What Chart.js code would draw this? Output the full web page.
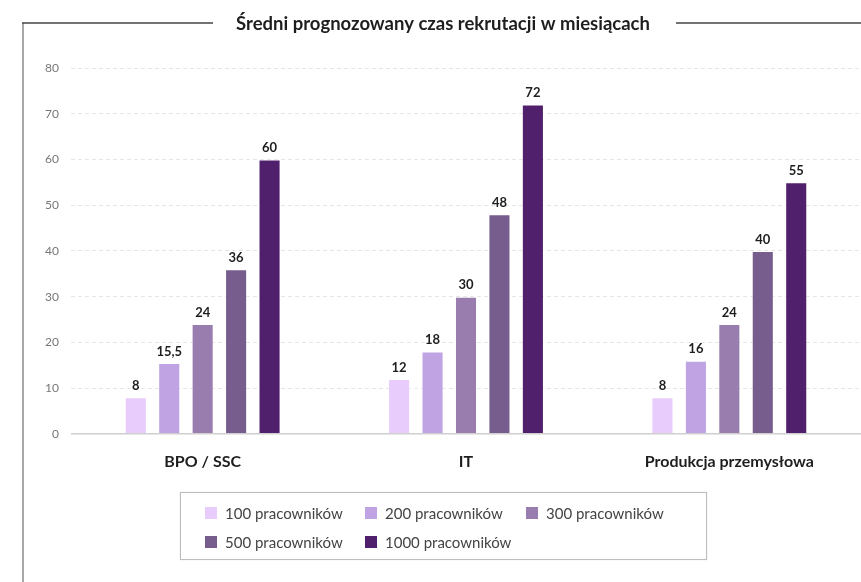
<!DOCTYPE html>
<html>
<head>
<meta charset="utf-8">
<script src="https://cdn.jsdelivr.net/npm/chart.js@4/dist/chart.umd.min.js"></script>
<style>
    html, body { margin: 0; padding: 0; background: #fff; }
    #wrap { position: relative; width: 861px; height: 582px; overflow: hidden; }
    #legend {
        position: absolute; left: 180px; top: 492px; width: 525px; height: 66px;
        border: 1px solid #bdbdbd; box-shadow: 0 0 1px #ddd;
        font-family: Lato, "Noto Sans", sans-serif; font-size: 15px; color: #444;
    }
    .item { position: absolute; height: 18px; line-height: 18px; white-space: nowrap; }
    .item span.box { position: absolute; left: 0; top: 3px; width: 12px; height: 12px; }
    .item span.txt { position: absolute; left: 20px; top: 0; }
</style>
</head>
<body>
<div id="wrap">
    <canvas id="chart" width="861" height="582"></canvas>
    <div id="legend"></div>
</div>
<script>
var categories = ['BPO / SSC', 'IT', 'Produkcja przemysłowa'];
var seriesNames = ['100 pracowników', '200 pracowników', '300 pracowników', '500 pracowników', '1000 pracowników'];
var v100  = [8, 12, 8];
var v200  = [15.5, 18, 16];
var v300  = [24, 30, 24];
var v500  = [36, 48, 40];
var v1000 = [60, 72, 55];
var colors = ['#e8ccfc', '#bfa3e3', '#987dae', '#775d8d', '#51206c'];
var titleText = 'Średni prognozowany czas rekrutacji w miesiącach';

var allValues = [v100, v200, v300, v500, v1000];
var datasets = [];
for (var i = 0; i < allValues.length; i++) {
    datasets.push({
        label: seriesNames[i],
        data: allValues[i],
        backgroundColor: colors[i],
        borderColor: 'rgba(255,255,255,0.35)',
        borderWidth: 1,
        categoryPercentage: 0.635,
        barPercentage: 0.66
    });
}

// numbers above bars, Polish decimal comma
var valueLabels = {
    id: 'valueLabels',
    afterDatasetsDraw: function (chart) {
        var ctx = chart.ctx;
        ctx.save();
        ctx.font = 'bold 13px Lato, "Noto Sans", sans-serif';
        ctx.fillStyle = '#1e1e1e';
        ctx.textAlign = 'center';
        ctx.textBaseline = 'bottom';
        chart.data.datasets.forEach(function (ds, di) {
            chart.getDatasetMeta(di).data.forEach(function (bar, j) {
                ctx.fillText(String(ds.data[j]).replace('.', ','), bar.x, bar.y - 5);
            });
        });
        ctx.restore();
    }
};

// frame: left line + top line broken by the title
var frame = {
    id: 'frame',
    beforeDraw: function (chart) {
        var ctx = chart.ctx;
        ctx.save();
        ctx.font = 'bold 18.5px Lato, "Noto Sans", sans-serif';
        var cx = 443;
        ctx.strokeStyle = '#a8a8a8';
        ctx.lineWidth = 2;
        ctx.beginPath();
        ctx.moveTo(23, 23);
        ctx.lineTo(23, 582);
        ctx.stroke();
        ctx.strokeStyle = '#444';
        ctx.lineWidth = 1.5;
        ctx.beginPath();
        ctx.moveTo(22, 23);
        ctx.lineTo(213, 23);
        ctx.moveTo(676, 23);
        ctx.lineTo(861, 23);
        ctx.stroke();
        ctx.fillStyle = '#1e1e1e';
        ctx.textAlign = 'center';
        ctx.textBaseline = 'middle';
        ctx.fillText(titleText, cx, 24);
        ctx.restore();
    }
};

var chart = new Chart(document.getElementById('chart'), {
    type: 'bar',
    data: { labels: categories, datasets: datasets },
    plugins: [frame, valueLabels],
    options: {
        responsive: false,
        animation: false,
        layout: { padding: { left: 22, right: -3, top: 68, bottom: 93 } },
        plugins: {
            legend: { display: false },
            title: { display: false },
            tooltip: { enabled: false }
        },
        scales: {
            x: {
                grid: { display: false, drawTicks: false },
                border: { display: false },
                ticks: {
                    padding: 18,
                    color: '#1e1e1e',
                    font: { family: 'Lato, "Noto Sans", sans-serif', size: 16, weight: 'bold' }
                }
            },
            y: {
                min: 0,
                max: 80,
                afterFit: function (scale) { scale.width = 49; },
                ticks: {
                    stepSize: 10,
                    padding: 12,
                    color: '#777',
                    font: { family: 'Lato, "Noto Sans", sans-serif', size: 12 }
                },
                grid: {
                    drawTicks: false,
                    color: function (c) { return c.tick && c.tick.value === 0 ? '#cfcfcf' : '#e6e6e6'; },
                    lineWidth: function (c) { return c.tick && c.tick.value === 0 ? 1.5 : 1; }
                },
                border: {
                    display: false,
                    dash: function (c) { return c.tick && c.tick.value === 0 ? [] : [4, 3]; }
                }
            }
        }
    }
});

// html legend in 3 columns, built from the datasets
var legend = document.getElementById('legend');
var colX = [24, 184, 345];
var rowY = [11, 40];
chart.data.datasets.forEach(function (ds, i) {
    var item = document.createElement('div');
    item.className = 'item';
    item.style.left = colX[i % 3] + 'px';
    item.style.top = rowY[Math.floor(i / 3)] + 'px';
    item.innerHTML = '<span class="box" style="background:' + ds.backgroundColor + '"></span><span class="txt">' + ds.label + '</span>';
    legend.appendChild(item);
});
</script>
</body>
</html>
